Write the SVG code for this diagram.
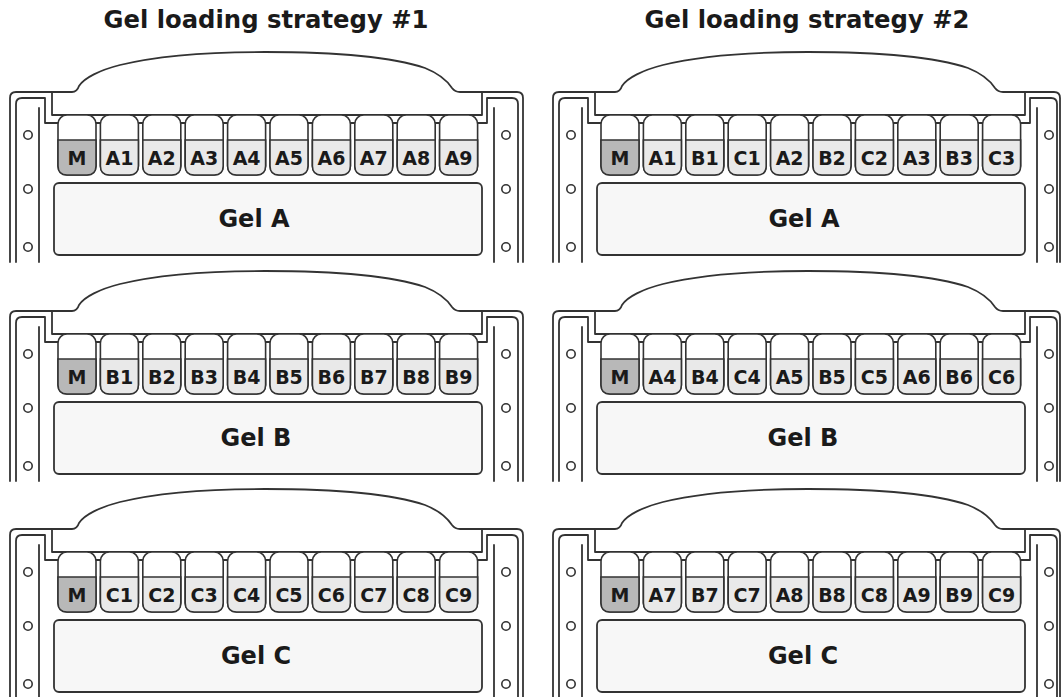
<svg xmlns="http://www.w3.org/2000/svg" width="1061" height="697" viewBox="0 0 1061 697">
<style>
.ln{fill:none;stroke:#333;stroke-width:1.8;stroke-linejoin:round;stroke-linecap:round}
.hole{fill:#fff;stroke:#333;stroke-width:1.6}
.gel{fill:#f7f7f7;stroke:#333;stroke-width:1.8}
.wtop{fill:#fff;stroke:#333;stroke-width:1.6}
.wlo{fill:#e9e9e9;stroke:#333;stroke-width:1.6}
.wm{fill:#b8b8b8;stroke:#333;stroke-width:1.6}
.title{font-family:"DejaVu Sans","Verdana",sans-serif;font-weight:bold;font-size:24.3px;fill:#1a1a1a;text-anchor:middle}
.gl{font-family:"DejaVu Sans","Verdana",sans-serif;font-weight:bold;font-size:24px;fill:#1a1a1a;text-anchor:middle}
.wl{font-family:"DejaVu Sans","Verdana",sans-serif;font-weight:bold;font-size:19px;fill:#1a1a1a;text-anchor:middle}
</style>
<defs>
<g id="tray">
<path class="ln" d="M52,92 V115 H482 V92"/>
<path class="ln" d="M39,108 V262 M494,108 V262"/>
<circle class="hole" cx="28" cy="135" r="4.2"/>
<circle class="hole" cx="28" cy="189" r="4.2"/>
<circle class="hole" cx="28" cy="247" r="4.2"/>
<circle class="hole" cx="506" cy="135" r="4.2"/>
<circle class="hole" cx="506" cy="189" r="4.2"/>
<circle class="hole" cx="506" cy="247" r="4.2"/>
<rect class="gel" x="54" y="183" width="428" height="72" rx="5"/>
</g>
<g id="frame1">
<path class="ln" d="M10,262 V98 Q10,92 16,92 H72 Q77,92 79,86 C84,78 100,70 120,65 C160,55 210,52 265,52 C340,52 395,58 425,68 C440,74 448,82 452,88 Q455,92 460,92 H517 Q523,92 523,98 V262"/>
<path class="ln" d="M16,262 V104 Q16,98 22,98 H45 V123 H487 V98 H512 Q518,98 518,104 V262"/>
<use href="#tray"/>
</g>
<g id="frame2">
<path class="ln" d="M10,262 V98 Q10,92 16,92 H72 Q77,92 79,86 C84,78 100,70 120,65 C160,55 210,52 265,52 C340,52 395,58 425,68 C440,74 448,82 452,88 Q455,92 460,92 H511 Q517,92 517,98 V262"/>
<path class="ln" d="M16,262 V104 Q16,98 22,98 H45 V123 H487 V98 H508 Q514,98 514,104 V262"/>
<use href="#tray"/>
</g>
<g id="well">
<rect class="wtop" x="0" y="115" width="38" height="60" rx="9"/>
<path class="wlo" d="M0,140 H38 V166 Q38,175 29,175 H9 Q0,175 0,166 Z"/>
</g>
<g id="mwell">
<rect class="wtop" x="0" y="115" width="38" height="60" rx="9"/>
<path class="wm" d="M0,140 H38 V166 Q38,175 29,175 H9 Q0,175 0,166 Z"/>
</g>
<g id="wells">
<use href="#mwell" x="58"/>
<use href="#well" x="100.4"/>
<use href="#well" x="142.8"/>
<use href="#well" x="185.2"/>
<use href="#well" x="227.6"/>
<use href="#well" x="270"/>
<use href="#well" x="312.4"/>
<use href="#well" x="354.8"/>
<use href="#well" x="397.2"/>
<use href="#well" x="439.6"/>
</g>
</defs>
<rect width="1061" height="697" fill="#fff"/>
<g id="titles">
<text class="title" x="266" y="28">Gel loading strategy #1</text>
<text class="title" x="807" y="28">Gel loading strategy #2</text>
</g>
<g id="connectors"></g>

<g id="s1-gelA">
<use href="#frame1"/><use href="#wells"/>
<text class="gl" x="254" y="227">Gel A</text>
<g class="wl"><text x="77" y="165">M</text><text x="119.4" y="165">A1</text><text x="161.8" y="165">A2</text><text x="204.2" y="165">A3</text><text x="246.6" y="165">A4</text><text x="289" y="165">A5</text><text x="331.4" y="165">A6</text><text x="373.8" y="165">A7</text><text x="416.2" y="165">A8</text><text x="458.6" y="165">A9</text></g>
</g>
<g id="s1-gelB" transform="translate(0,219)">
<use href="#frame1"/><use href="#wells"/>
<text class="gl" x="256" y="227">Gel B</text>
<g class="wl"><text x="77" y="165">M</text><text x="119.4" y="165">B1</text><text x="161.8" y="165">B2</text><text x="204.2" y="165">B3</text><text x="246.6" y="165">B4</text><text x="289" y="165">B5</text><text x="331.4" y="165">B6</text><text x="373.8" y="165">B7</text><text x="416.2" y="165">B8</text><text x="458.6" y="165">B9</text></g>
</g>
<g id="s1-gelC" transform="translate(0,437)">
<use href="#frame1"/><use href="#wells"/>
<text class="gl" x="256" y="227">Gel C</text>
<g class="wl"><text x="77" y="165">M</text><text x="119.4" y="165">C1</text><text x="161.8" y="165">C2</text><text x="204.2" y="165">C3</text><text x="246.6" y="165">C4</text><text x="289" y="165">C5</text><text x="331.4" y="165">C6</text><text x="373.8" y="165">C7</text><text x="416.2" y="165">C8</text><text x="458.6" y="165">C9</text></g>
</g>
<g id="s2-gelA" transform="translate(543,0)">
<use href="#frame2"/><use href="#wells"/>
<text class="gl" x="261" y="227">Gel A</text>
<g class="wl"><text x="77" y="165">M</text><text x="119.4" y="165">A1</text><text x="161.8" y="165">B1</text><text x="204.2" y="165">C1</text><text x="246.6" y="165">A2</text><text x="289" y="165">B2</text><text x="331.4" y="165">C2</text><text x="373.8" y="165">A3</text><text x="416.2" y="165">B3</text><text x="458.6" y="165">C3</text></g>
</g>
<g id="s2-gelB" transform="translate(543,219)">
<use href="#frame2"/><use href="#wells"/>
<text class="gl" x="260" y="227">Gel B</text>
<g class="wl"><text x="77" y="165">M</text><text x="119.4" y="165">A4</text><text x="161.8" y="165">B4</text><text x="204.2" y="165">C4</text><text x="246.6" y="165">A5</text><text x="289" y="165">B5</text><text x="331.4" y="165">C5</text><text x="373.8" y="165">A6</text><text x="416.2" y="165">B6</text><text x="458.6" y="165">C6</text></g>
</g>
<g id="s2-gelC" transform="translate(543,437)">
<use href="#frame2"/><use href="#wells"/>
<text class="gl" x="260" y="227">Gel C</text>
<g class="wl"><text x="77" y="165">M</text><text x="119.4" y="165">A7</text><text x="161.8" y="165">B7</text><text x="204.2" y="165">C7</text><text x="246.6" y="165">A8</text><text x="289" y="165">B8</text><text x="331.4" y="165">C8</text><text x="373.8" y="165">A9</text><text x="416.2" y="165">B9</text><text x="458.6" y="165">C9</text></g>
</g>
</svg>
